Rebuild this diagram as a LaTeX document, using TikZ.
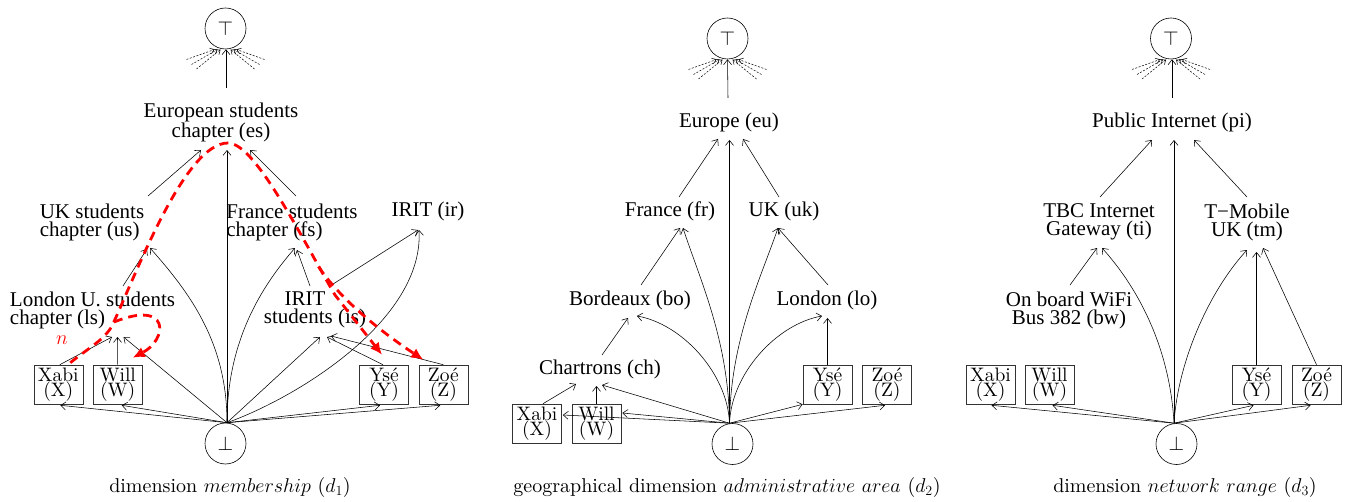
\RequirePackage{fix-cm}
\documentclass[tikz,border=0pt]{standalone}
\usepackage{fontspec}
\setmainfont{lmroman10-regular.otf}[ItalicFont=lmroman10-italic.otf, BoldFont=lmroman10-bold.otf]
\newfontfamily\tnr{Liberation Serif}
\usetikzlibrary{arrows.meta,calc}
\begin{document}
\begin{tikzpicture}[x=1pt,y=-1pt,
  lab/.style={font=\tnr\fontsize{21}{18}\selectfont, align=center, inner sep=0pt},
  labl/.style={lab, align=left},
  pbox/.style={draw=black!80, line width=0.6pt, minimum width=49pt, minimum height=39pt, inner sep=0pt, align=center, font=\fontsize{19.5}{15.5}\selectfont},
  circ/.style={circle, draw, line width=0.6pt, minimum size=41pt, inner sep=0pt, font=\fontsize{20}{20}\selectfont},
  arr/.style={line width=0.55pt, -{Straight Barb[length=5pt,width=8pt]}},
  fan/.style={line width=0.5pt, dash pattern=on 2pt off 1.5pt, -{Straight Barb[length=4pt,width=6pt]}},
  redpath/.style={color=red, line width=2.8pt, dash pattern=on 9pt off 6pt, -{Latex[length=12pt,width=11pt]}},
  captxt/.style={font=\fontsize{20}{24}\selectfont, inner sep=0pt}
]
\useasboundingbox (0,0) rectangle (1354,502);

% ================= panel 1 =================
\node[circ] (top1) at (225.5,28.5) {$\top$};
\node[lab] (es1) at (221,122) {European students\\chapter (es)};
\node[labl] (us1) at (92,222) {UK students\\chapter (us)};
\node[labl] (fs1) at (292,222) {France students\\chapter (fs)};
\node[lab] (ir1) at (428,211) {IRIT (ir)};
\node[labl] (ls1) at (92.5,310) {London U. students\\chapter (ls)};
\node[lab] (is1) at (315,310) {IRIT\hspace*{20pt}\\students (is)};
\node[pbox] (X1) at (58.3,384.5) {Xabi\\(X)};
\node[pbox] (W1) at (117.7,384.5) {Will\\(W)};
\node[pbox] (Y1) at (384,384.5) {Ysé\\(Y)};
\node[pbox] (Z1) at (443.3,384.5) {Zoé\\(Z)};
\node[circ] (bot1) at (225.5,443.5) {$\bot$};
\coordinate (B1) at ($(bot1.north)+(1.5,0)$);
\node[captxt] (cap1) at (230,487) {dimension $membership$ ($d_1$)};
\node[red, font=\fontsize{20}{20}\selectfont, inner sep=0pt] (nl) at (62,340) {$n$};

\draw[arr] ($(es1)+(5,-34)$) -- ($(top1.south)+(0.5,0)$);
\draw[arr] ($(us1)+(56,-26)$) -- ($(es1)+(-20,28)$);
\draw[arr] ($(fs1)+(4,-26)$) -- ($(es1)+(29,28)$);
\draw[arr] (B1) -- ($(es1)+(6,28)$);
\draw[arr] ($(ls1)+(30.5,-24)$) -- ($(us1)+(55,27)$);
\draw[arr] (B1) .. controls +(0,-80) and +(40,45) .. ($(us1)+(58,26)$);
\draw[arr] (B1) .. controls +(0,-80) and +(-35,40) .. ($(fs1)+(3,26)$);
\draw[arr] ($(is1)+(-5,-24)$) -- ($(fs1)+(5,28)$);
\draw[arr] ($(is1)+(15,-24)$) -- ($(ir1)+(-10,19)$);
\draw[arr] (B1) .. controls +(70,-25) and +(5,90) .. ($(ir1)+(-9,19)$);
\draw[arr] ($(X1.north)+(1.5,0)$) -- ($(ls1)+(19.5,27)$);
\draw[arr] (W1.north) -- ($(ls1)+(25,27)$);
\draw[arr] (B1) -- ($(ls1)+(31,27)$);
\draw[arr] (B1) -- ($(is1)+(5,27)$);
\draw[arr] ($(Y1.north)+(-1,0)$) -- ($(is1)+(12,27)$);
\draw[arr] (Z1.north) -- ($(is1)+(16,26)$);
\draw[arr] (B1) -- ($(X1.south)+(2,1)$);
\draw[arr] (B1) -- ($(W1.south)+(4,1)$);
\draw[arr] (B1) -- ($(Y1.south)+(-4,1)$);
\draw[arr] (B1) -- ($(Z1.south)+(-3,1)$);

% red paths
\coordinate (r0) at ($(X1.north)+(12,-2)$);
\coordinate (r1) at (112,326);
\coordinate (rp) at ($(es1)+(7,21)$);
\coordinate (r2) at (335,295);
\coordinate (rb) at (318.5,266.5);
\coordinate (rl) at (114,322);
\draw[redpath] (r0) .. controls +(20,-16) and +(-8,14) .. (r1)
  .. controls +(25,-54) and +(-43,0) .. (rp)
  .. controls +(27,0) and +(-35,-60) .. (r2) -- ($(Y1.north)+(-2,-10)$);
\draw[redpath] (rb) .. controls +(17,26) and +(-53,-35) .. ($(Z1.north)+(-20,-5)$);
\draw[redpath] (rl) .. controls +(57,-23) and +(35,-18) .. ($(W1.north)+(15,-7)$);

% ================= panel 2 =================
\node[circ] (top2) at (727.5,38.5) {$\top$};
\node[lab] (eu2) at (729,122) {Europe (eu)};
\node[lab] (fr2) at (670,211) {France (fr)};
\node[lab] (uk2) at (784,211) {UK (uk)};
\node[lab] (bo2) at (630,300) {Bordeaux (bo)};
\node[lab] (lo2) at (827,300) {London (lo)};
\node[lab] (ch2) at (600,369) {Chartrons (ch)};
\node[pbox] (X2) at (537,423.5) {Xabi\\(X)};
\node[pbox] (W2) at (596.5,423.5) {Will\\(W)};
\node[pbox] (Y2) at (827.5,384.5) {Ysé\\(Y)};
\node[pbox] (Z2) at (887,384.5) {Zoé\\(Z)};
\node[circ] (bot2) at (732.5,444) {$\bot$};
\coordinate (B2) at ($(bot2.north)+(-3,0)$);
\node[captxt] (cap2) at (727,487) {geographical dimension $administrative$ $area$ ($d_2$)};

\draw[arr] ($(eu2)+(-1,-24)$) -- (top2.south);
\draw[arr] ($(fr2)+(9,-14)$) -- ($(eu2)+(-11,17)$);
\draw[arr] ($(uk2)+(-5,-14)$) -- ($(eu2)+(14,17)$);
\draw[arr] (B2) -- ($(eu2)+(0.5,18)$);
\draw[arr] ($(bo2)+(11,-15)$) -- ($(fr2)+(10,17)$);
\draw[arr] (B2) .. controls +(-1,-83) and +(17,52) .. ($(fr2)+(13,17)$);
\draw[arr] ($(lo2)+(1,-15)$) -- ($(uk2)+(-6,17)$);
\draw[arr] (B2) .. controls +(1,-83) and +(-18,52) .. ($(uk2)+(-6,17)$);
\draw[arr] ($(ch2)+(2,-14)$) -- ($(bo2)+(-2,18)$);
\draw[arr] (B2) .. controls +(-2,-50) and +(45,8) .. ($(bo2)+(7,16)$);
\draw[arr] (B2) .. controls +(2,-50) and +(-45,8) .. ($(lo2)+(-5,16)$);
\draw[arr] (Y2.north) -- ($(lo2)+(0.5,18)$);
\draw[arr] ($(X2.north)+(6,0)$) -- ($(ch2)+(-24,15)$);
\draw[arr] (W2.north) -- ($(ch2)+(-3.5,17)$);
\draw[arr] (B2) -- ($(ch2)+(2,16)$);
\draw[arr] (B2) -- ($(X2.east)+(1,-8.5)$);
\draw[arr] (B2) -- ($(W2.east)+(1,-10.5)$);
\draw[arr] (B2) -- (Y2.south west);
\draw[arr] (B2) -- ($(Z2.south)+(-2,1)$);

% ================= panel 3 =================
\node[circ] (top3) at (1171,38.5) {$\top$};
\node[lab] (pi3) at (1172,122) {Public Internet (pi)};
\node[lab] (ti3) at (1099,222) {TBC Internet\\Gateway (ti)};
\node[lab] (tm3) at (1247,222) {T−Mobile\\UK (tm)};
\node[lab] (bw3) at (1069,310) {On board WiFi\\Bus 382 (bw)};
\node[pbox] (X3) at (990.5,384.5) {Xabi\\(X)};
\node[pbox] (W3) at (1049.5,384.5) {Will\\(W)};
\node[pbox] (Y3) at (1256.5,384.5) {Ysé\\(Y)};
\node[pbox] (Z3) at (1316.5,384.5) {Zoé\\(Z)};
\node[circ] (bot3) at (1176.5,444) {$\bot$};
\coordinate (B3) at ($(bot3.north)+(-2.5,0)$);
\node[captxt] (cap3) at (1185,487) {dimension $network$ $range$ ($d_3$)};

\draw[arr] ($(pi3)+(0,-24)$) -- ($(top3.south)+(1,0)$);
\draw[arr] ($(ti3)+(1,-25)$) -- ($(pi3)+(-20,18)$);
\draw[arr] ($(tm3)+(0,-25)$) -- ($(pi3)+(22,18)$);
\draw[arr] (B3) -- ($(pi3)+(2,18)$);
\draw[arr] ($(bw3)+(1,-25)$) -- ($(ti3)+(-2,26)$);
\draw[arr] (B3) .. controls +(-4,-73) and +(38,42) .. ($(ti3)+(3,26)$);
\draw[arr] (B3) .. controls +(4,-63) and +(-37,40) .. ($(tm3)+(0,28)$);
\draw[arr] (Y3.north) -- ($(tm3)+(9.5,30)$);
\draw[arr] (Z3.north) -- ($(tm3)+(16,26)$);
\draw[arr] (B3) -- ($(X3.south)+(1,1)$);
\draw[arr] (B3) -- ($(W3.south)+(3,1)$);
\draw[arr] (B3) -- ($(Y3.south)+(-3,1)$);
\draw[arr] (B3) -- ($(Z3.south)+(-6,1)$);

% dashed fans under the top elements
\foreach \t in {top1,top2,top3}{
  \foreach \sx/\sy/\ex/\ey in {-39/31/-11/21, -34/36/-8/21, -29/40.5/-5/21, 39/31/11/21, 34/36/8/21, 29/40.5/5/21}{
    \draw[fan] ($(\t)+(\sx,\sy)$) -- ($(\t)+(\ex,\ey)$);
  }
}
\end{tikzpicture}
\end{document}
